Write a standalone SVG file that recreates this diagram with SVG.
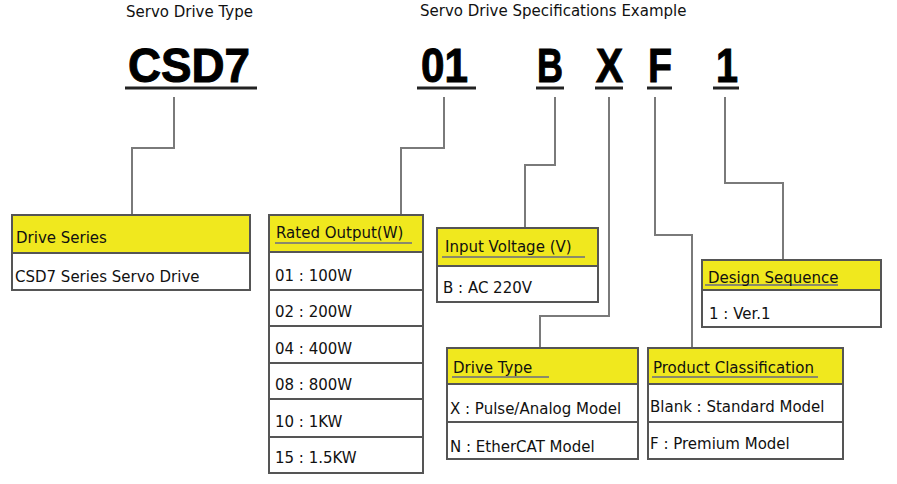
<svg xmlns="http://www.w3.org/2000/svg" width="897" height="484" viewBox="0 0 897 484">
<style>
.t{font-family:"DejaVu Sans",Verdana,sans-serif;font-size:15px;fill:#111}
.big{font-family:"Liberation Sans",Arial,sans-serif;font-weight:bold;font-size:48px;fill:#000;stroke:#000;stroke-width:1}
.ul{stroke:#222;stroke-width:3}
.box{fill:#fff;stroke:#555;stroke-width:2}
.hd{fill:#f0e81e;stroke:#555;stroke-width:2}
.sep{stroke:#555;stroke-width:2}
.hu{stroke:#8a8a6a;stroke-width:2}
.c{fill:none;stroke:#7a7a7a;stroke-width:2}
</style>
<rect width="897" height="484" fill="#fff"/>
<g id="titles">
<text class="t" x="126" y="17">Servo Drive Type</text>
<text class="t" x="420" y="16">Servo Drive Specifications Example</text>
</g>
<g id="codes">
<text class="big" x="128" y="82" textLength="122" lengthAdjust="spacingAndGlyphs">CSD7</text>
<line class="ul" x1="125" y1="88" x2="257" y2="88"/>
<text class="big" x="421" y="82" textLength="47" lengthAdjust="spacingAndGlyphs">01</text>
<line class="ul" x1="417" y1="88" x2="476" y2="88"/>
<text class="big" x="537" y="82" textLength="26" lengthAdjust="spacingAndGlyphs">B</text>
<line class="ul" x1="536" y1="88" x2="564" y2="88"/>
<text class="big" x="596" y="82" textLength="27" lengthAdjust="spacingAndGlyphs">X</text>
<line class="ul" x1="595" y1="88" x2="623" y2="88"/>
<text class="big" x="648" y="82" textLength="24" lengthAdjust="spacingAndGlyphs">F</text>
<line class="ul" x1="647" y1="88" x2="672" y2="88"/>
<text class="big" x="716" y="82" textLength="22" lengthAdjust="spacingAndGlyphs">1</text>
<line class="ul" x1="713" y1="88" x2="739" y2="88"/>
</g>
<g id="connectors">
<path class="c" d="M174 97 V148 H132 V215"/>
<path class="c" d="M444 97 V148 H401 V215"/>
<path class="c" d="M555 97 V165 H525 V228"/>
<path class="c" d="M609 97 V316 H540 V348"/>
<path class="c" d="M655 97 V235 H692 V348"/>
<path class="c" d="M725 97 V183 H783 V260"/>
</g>
<g id="drive-series">
<rect class="box" x="12" y="215" width="238" height="75"/>
<rect class="hd" x="12" y="215" width="238" height="38"/>
<text class="t" x="16" y="243">Drive Series</text>
<text class="t" x="15" y="282">CSD7 Series Servo Drive</text>
</g>
<g id="rated-output">
<rect class="box" x="269" y="215" width="154" height="258"/>
<rect class="hd" x="269" y="215" width="154" height="37"/>
<line class="hu" x1="275" y1="243" x2="412" y2="243"/>
<text class="t" x="276" y="238">Rated Output(W)</text>
<line class="sep" x1="269" y1="290" x2="423" y2="290"/>
<line class="sep" x1="269" y1="326" x2="423" y2="326"/>
<line class="sep" x1="269" y1="363" x2="423" y2="363"/>
<line class="sep" x1="269" y1="399" x2="423" y2="399"/>
<line class="sep" x1="269" y1="437" x2="423" y2="437"/>
<text class="t" x="275" y="281">01 : 100W</text>
<text class="t" x="275" y="317">02 : 200W</text>
<text class="t" x="275" y="354">04 : 400W</text>
<text class="t" x="275" y="390">08 : 800W</text>
<text class="t" x="275" y="427">10 : 1KW</text>
<text class="t" x="275" y="463">15 : 1.5KW</text>
</g>
<g id="input-voltage">
<rect class="box" x="437" y="228" width="161" height="74"/>
<rect class="hd" x="437" y="228" width="161" height="38"/>
<line class="hu" x1="442" y1="257" x2="585" y2="257"/>
<text class="t" x="445" y="252">Input Voltage (V)</text>
<text class="t" x="443" y="293">B : AC 220V</text>
</g>
<g id="design-sequence">
<rect class="box" x="702" y="260" width="179" height="67"/>
<rect class="hd" x="702" y="260" width="179" height="30"/>
<line class="hu" x1="705" y1="285" x2="838" y2="285"/>
<text class="t" x="708" y="283">Design Sequence</text>
<text class="t" x="709" y="319">1 : Ver.1</text>
</g>
<g id="drive-type">
<rect class="box" x="447" y="348" width="191" height="111"/>
<rect class="hd" x="447" y="348" width="191" height="36"/>
<line class="hu" x1="452" y1="377" x2="549" y2="377"/>
<text class="t" x="453" y="373">Drive Type</text>
<line class="sep" x1="447" y1="422" x2="638" y2="422"/>
<text class="t" x="450" y="414">X : Pulse/Analog Model</text>
<text class="t" x="450" y="452">N : EtherCAT Model</text>
</g>
<g id="product-classification">
<rect class="box" x="648" y="348" width="195" height="111"/>
<rect class="hd" x="648" y="348" width="195" height="36"/>
<line class="hu" x1="652" y1="377" x2="818" y2="377"/>
<text class="t" x="653" y="373">Product Classification</text>
<line class="sep" x1="648" y1="422" x2="843" y2="422"/>
<text class="t" x="650" y="412">Blank : Standard Model</text>
<text class="t" x="650" y="449">F : Premium Model</text>
</g>
</svg>
